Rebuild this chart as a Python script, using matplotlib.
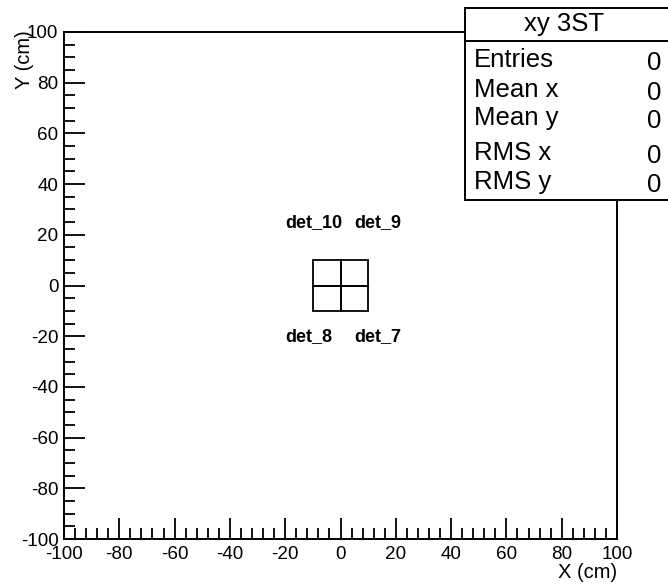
import matplotlib
matplotlib.use("Agg")
import matplotlib.pyplot as plt
from matplotlib.patches import Rectangle
from matplotlib.lines import Line2D
from matplotlib.ticker import MultipleLocator

plt.rcParams['font.family'] = ['Liberation Sans', 'DejaVu Sans']
plt.rcParams['axes.unicode_minus'] = False

# Data
det_names = ["det_7", "det_8", "det_9", "det_10"]
det_x0 = [0, -10, 0, -10]
det_y0 = [-10, -10, 0, 0]
det_w = [10, 10, 10, 10]
det_h = [10, 10, 10, 10]
label_x = [5, -20, 5, -20]
label_y = [-20, -20, 25, 25]

stats_title = "xy 3ST"
stats_names = ["Entries", "Mean x", "Mean y", "RMS x", "RMS y"]
stats_values = ["0", "0", "0", "0", "0"]

x_range = (-100, 100)
y_range = (-100, 100)

W, H = 668, 586
fig = plt.figure(figsize=(W / 100, H / 100), dpi=100)
L, R, T, B = 64, 617, 32, 539
ax = fig.add_axes([L / W, 1 - B / H, (R - L) / W, (B - T) / H])
ax.set_xlim(*x_range)
ax.set_ylim(*y_range)

for x0, y0, w, h in zip(det_x0, det_y0, det_w, det_h):
    ax.add_patch(Rectangle((x0, y0), w, h, fill=False, edgecolor='black', linewidth=1.3))
for name, lx, ly in zip(det_names, label_x, label_y):
    ax.text(lx, ly, name, fontsize=13, fontweight='bold', ha='left', va='center')

for s in ax.spines.values():
    s.set_linewidth(1.4)
ax.xaxis.set_major_locator(MultipleLocator(20))
ax.xaxis.set_minor_locator(MultipleLocator(4))
ax.yaxis.set_major_locator(MultipleLocator(20))
ax.yaxis.set_minor_locator(MultipleLocator(5))
ax.tick_params(which='both', direction='in', top=False, right=False, width=1.3, labelsize=13.6)
ax.tick_params(which='major', length=15, pad=2)
ax.tick_params(which='minor', length=8)
ax.tick_params(axis='x', which='major', pad=5)
ax.tick_params(axis='y', which='major', pad=4)

fig.text(R / W, 1 - 573 / H, "X (cm)", fontsize=14.5, ha='right', va='center')
fig.text(25 / W, 1 - 30 / H, "Y (cm)", fontsize=14.5, ha='center', va='top', rotation=90)

# Stats box
bx0, bx1, by0, by1 = 465, 700, 8, 200
fig.patches.append(Rectangle((bx0 / W, 1 - by1 / H), (bx1 - bx0) / W, (by1 - by0) / H,
                             transform=fig.transFigure, facecolor='white', edgecolor='black',
                             linewidth=1.4, zorder=5))
fig.lines.append(Line2D([bx0 / W, 1], [1 - 41 / H, 1 - 41 / H], transform=fig.transFigure,
                        color='black', linewidth=1.4, zorder=6))
fig.text(564 / W, 1 - 24 / H, stats_title, fontsize=18.5, ha='center', va='center', zorder=7)
row_y = [60, 90, 118, 153, 182]
for name, val, yy in zip(stats_names, stats_values, row_y):
    fig.text(474 / W, 1 - yy / H, name, fontsize=18.5, ha='left', va='center', zorder=7)
    fig.text(661 / W, 1 - (yy + 3) / H, val, fontsize=18.5, ha='right', va='center', zorder=7)

fig.savefig("out.png", dpi=100)
